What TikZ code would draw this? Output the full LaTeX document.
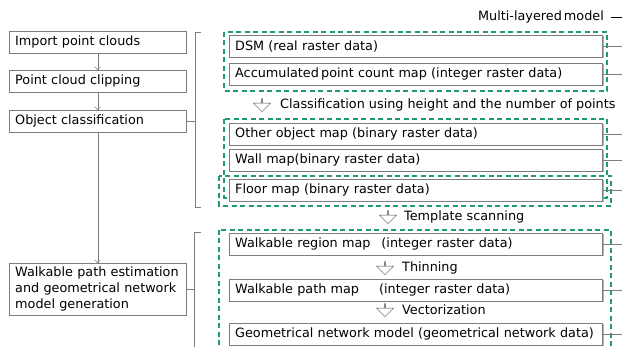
\documentclass[tikz,border=0pt]{standalone}
\usepackage{fontspec}
\setmainfont{DejaVu Sans}
\usetikzlibrary{arrows.meta,shapes.arrows,shadows,positioning}

\definecolor{layergreen}{RGB}{30,155,115}
\definecolor{boxgray}{RGB}{125,125,125}

\tikzset{
	stepbox/.style={draw=boxgray, fill=white, anchor=north west, text width=165pt, inner xsep=6pt, inner ysep=2pt, minimum height=22pt, align=left},
	layerbox/.style={draw=boxgray, fill=white, anchor=north west, text width=361pt, inner xsep=6pt, inner ysep=2pt, minimum height=22pt, align=left, drop shadow={shadow xshift=1.3pt, shadow yshift=-1.3pt, fill=black!30, opacity=1}},
	layerframe/.style={draw=layergreen, line width=1.1pt, dash pattern=on 5pt off 3.5pt},
	hollowarrow/.style={single arrow, draw=black!70, rotate=-90, minimum height=13pt, minimum width=17pt, single arrow head extend=4.5pt, inner sep=0pt},
	steplabel/.style={anchor=west, inner sep=0pt},
	flow/.style={draw=boxgray, -{Straight Barb[length=3pt, width=6pt]}},
	bracket/.style={draw=boxgray},
	tick/.style={draw=boxgray}
}

\begin{document}
\begin{tikzpicture}[x=1pt, y=-1pt, font=\fontsize{12.8}{16}\selectfont]
	\useasboundingbox (0,0) rectangle (622,347);
	\clip (0,0) rectangle (622,347);
	\coordinate (edge) at (622,0);
	\coordinate (brA) at (195,32);
	\coordinate (brB) at (194,232);

	% processing steps
	\node[stepbox] (import) at (9,31) {Import point clouds};
	\node[stepbox] (clip) at (9,70) {Point cloud clipping};
	\node[stepbox] (objclass) at (9,110) {Object classification};
	\node[stepbox, minimum height=52pt] (walkgen) at (9,263) {Walkable path estimation\\and geometrical network\\model generation};

	\draw[flow] (import) to (clip);
	\draw[flow] (clip) to (objclass);
	\draw[flow] (objclass) to (walkgen);

	% brackets
	\draw[bracket] (201,32) -- (brA) -- (195,207) -- (201,207);
	\draw[bracket] (201,232) -- (brB) -- (194,360);
	\draw[tick] (objclass.east) -- (objclass.east -| brA);
	\draw[tick] (walkgen.east) -- (walkgen.east -| brB);

	% multi-layered model
	\node[anchor=east, inner sep=0pt] (mlm) at (604,17) {Multi-layered\hspace{-2pt} model};
	\draw[thick] ([xshift=7pt]mlm.east) -- (mlm.east -| edge);

	\draw[layerframe] (224,32) rectangle (607,91);
	\draw[layerframe] (224,119) rectangle (607,198);
	\draw[layerframe] (219,176) rectangle (611,206);
	\draw[layerframe] (219,230) rectangle (611,360);

	% layers
	\node[layerbox] (dsm) at (229,35) {DSM (real raster data)};
	\node[layerbox] (accum) at (229,63) {Accumulated\hspace{-2pt} point count map (integer raster data)};
	\node[layerbox] (other) at (229,123) {Other object map (binary raster data)};
	\node[layerbox] (wall) at (229,149) {Wall map(binary raster data)};
	\node[layerbox] (floor) at (229,179) {Floor map (binary raster data)};
	\node[layerbox] (wregion) at (229,233) {Walkable region map\hspace{11pt}(integer raster data)};
	\node[layerbox] (wpath) at (229,279) {Walkable path map\hspace{20pt}(integer raster data)};
	\node[layerbox] (geonet) at (229,323) {Geometrical network model (geometrical network data)};

	\foreach \l in {dsm,accum,other,wall,floor,wregion,wpath,geonet}
		\draw[draw=boxgray] (\l.east) -- (\l.east -| edge);

	% operations
	\node[hollowarrow] (op1) at (262,105) {};
	\node[steplabel] (classify) at (280,105) {Classification using height and the number of points};
	\node[hollowarrow] (op2) at (388,217) {};
	\node[steplabel] (template) at (404,217) {Template scanning};
	\node[hollowarrow] (op3) at (385,268) {};
	\node[steplabel] (thin) at (402,268) {Thinning};
	\node[hollowarrow] (op4) at (385,310) {};
	\node[steplabel] (vector) at (402,310) {Vectorization};
\end{tikzpicture}
\end{document}
